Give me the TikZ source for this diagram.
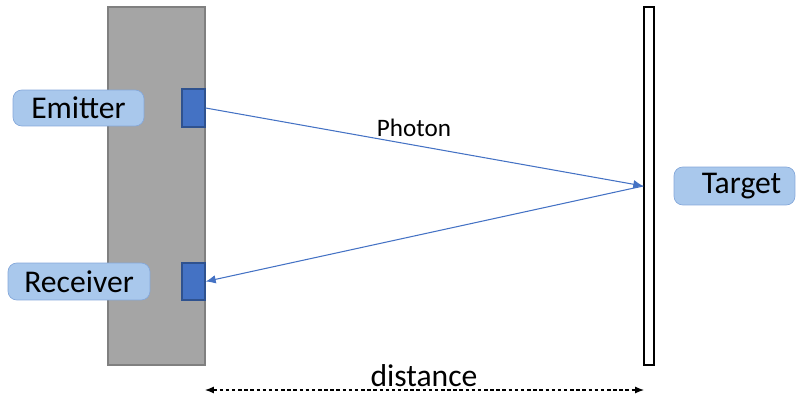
\documentclass[tikz,border=0pt]{standalone}
\usepackage{fontspec}
\setmainfont{Carlito}
\usetikzlibrary{arrows.meta,positioning}
\definecolor{PanelGray}{HTML}{A5A5A5}
\definecolor{PanelEdge}{HTML}{808080}
\definecolor{Blue}{HTML}{4472C4}
\definecolor{BlueDark}{HTML}{2F528F}
\definecolor{TagFill}{HTML}{A9C8EC}
\definecolor{TagEdge}{HTML}{85A8DA}

\begin{document}
\begin{tikzpicture}[x=0.02cm,y=-0.02cm,>=Latex,
  tagbox/.style={draw=TagEdge,fill=TagFill,rounded corners=5pt,inner sep=0pt,
    font=\fontsize{18}{20}\selectfont,text=black},
  sensor/.style={draw=BlueDark,fill=Blue,thick,minimum width=0.46cm,inner sep=0pt}]
  \useasboundingbox (0,0) rectangle (796,396);

  % Sensor panel and target plate.
  \node[draw=PanelEdge,fill=PanelGray,thick,minimum width=1.94cm,minimum height=7.16cm,
    inner sep=0pt] (panel) at (156.5,186) {};
  \node[draw=black,fill=white,thick,minimum width=0.2cm,minimum height=7.16cm,
    inner sep=0pt] (target) at (649,186) {};
  \node[sensor,minimum height=0.76cm] (emitbox) at (193.5,108) {};
  \node[sensor,minimum height=0.74cm] (recvbox) at (193.5,281.5) {};

  \node[tagbox,minimum width=2.62cm,minimum height=0.72cm] (emitter) at (78.5,108) {Emitter};
  \node[tagbox,minimum width=2.84cm,minimum height=0.74cm] (receiver) at (79,281.5) {Receiver};
  \node[tagbox,minimum width=2.42cm,minimum height=0.76cm] (targettag) at (734.5,186) {\hspace*{8pt}Target};

  % Photon path out and back.
  \draw[-{Latex[length=2mm,width=1.7mm]},Blue,line width=0.6pt] (emitbox.east) -- (target.west);
  \draw[-{Latex[length=2mm,width=1.7mm]},Blue,line width=0.6pt] (target.west) -- (recvbox.east);
  \node[font=\fontsize{14.3}{16}\selectfont] (photon) at (414,128) {Photon};

  % Distance between panel and target.
  \coordinate (dleft) at (205,390);
  \coordinate (dright) at (644,390);
  \draw[{Latex[length=1.8mm,width=1.4mm]}-{Latex[length=1.8mm,width=1.4mm]},
    dash pattern=on 2pt off 1.5pt,line width=0.6pt] (dleft) -- (dright);
  \node[font=\fontsize{18}{20}\selectfont] (dist) at (424,376) {distance};
\end{tikzpicture}
\end{document}
